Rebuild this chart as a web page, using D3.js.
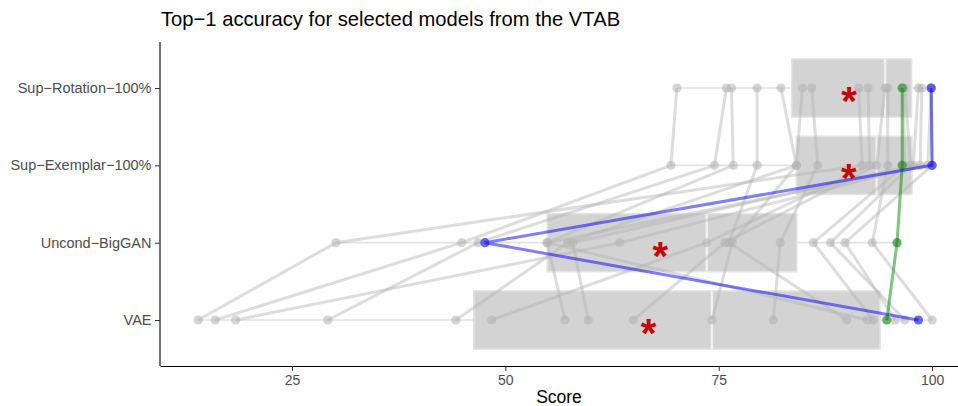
<!DOCTYPE html>
<html>
<head>
<meta charset="utf-8">
<script src="https://cdn.jsdelivr.net/npm/d3@7"></script>
<style>
  html, body { margin: 0; padding: 0; background: #ffffff; }
  svg { display: block; font-family: "Liberation Sans", Arial, Helvetica, sans-serif; }
</style>
</head>
<body>
<svg id="chart" width="958" height="406"></svg>
<script>
// ---------------- data ----------------
const categories = ["Sup−Rotation−100%", "Sup−Exemplar−100%", "Uncond−BigGAN", "VAE"];
// one value per VTAB task, same task order in every array
const supRotation  = [70.1, 75.9, 76.5, 79.5, 82.3, 84.8, 85.9, 91.4, 92.5, 94.5, 94.8, 96.5, 96.6, 96.8, 98.4, 98.8, 99.9, 99.9, 99.9];
const supExemplar  = [69.4, 74.5, 76.7, 79.5, 84.1, 84.1, 86.6, 91.8, 92.7, 93.5, 94.8, 96.5, 96.8, 97.5, 97.8, 98.6, 99.5, 100.0, 100.0];
const uncondBigGAN = [44.9, 46.8, 54.9, 76.2, 57.3, 76.6, 82.2, 30.15, 73.6, 75.7, 93.0, 95.9, 86.1, 88.1, 57.9, 63.4, 54.9, 89.8, 47.6];
const vae          = [16.0, 29.2, 92.4, 90.0, 44.2, 74.2, 81.4, 14.0, 48.4, 65.0, 100.0, 94.7, 93.1, 96.8, 59.7, 18.4, 57.0, 95.7, 98.4];
const greenTask = 11;
const blueTask = 18;
const xTicks = [25, 50, 75, 100];
const titleText = "Top−1 accuracy for selected models from the VTAB";
const xLabel = "Score";

const seriesByCat = [supRotation, supExemplar, uncondBigGAN, vae];
const nTasks = supRotation.length;

// ---------------- layout ----------------
const svg = d3.select("#chart");
const panel = { left: 160, right: 958, top: 42, bottom: 366 };

const x = d3.scaleLinear().domain([9.53, 103.04]).range([panel.left, panel.right]);
const y = d3.scalePoint().domain(categories).range([88, 320]);
const step = y.step();
const boxHalf = step * 0.375;

// task records
const tasks = d3.range(nTasks).map(i => categories.map((c, k) => ({ cat: c, v: seriesByCat[k][i] })));

// ---------------- boxplots ----------------
const gBox = svg.append("g");
categories.forEach((c, k) => {
  const vals = seriesByCat[k].slice().sort(d3.ascending);
  const q1 = d3.quantile(vals, 0.25), med = d3.quantile(vals, 0.5), q3 = d3.quantile(vals, 0.75);
  const iqr = q3 - q1;
  const lo = d3.min(vals.filter(v => v >= q1 - 1.5 * iqr));
  const hi = d3.max(vals.filter(v => v <= q3 + 1.5 * iqr));
  const cy = y(c);
  gBox.append("line").attr("x1", x(lo)).attr("x2", x(q1)).attr("y1", cy).attr("y2", cy)
    .attr("stroke", "#e3e3e3").attr("stroke-width", 1.6);
  gBox.append("line").attr("x1", x(q3)).attr("x2", x(hi)).attr("y1", cy).attr("y2", cy)
    .attr("stroke", "#e3e3e3").attr("stroke-width", 1.6);
  gBox.append("rect")
    .attr("x", x(q1)).attr("width", x(q3) - x(q1))
    .attr("y", cy - boxHalf).attr("height", boxHalf * 2)
    .attr("fill", "#d3d3d3").attr("stroke", "#e3e3e3").attr("stroke-width", 1.6);
  gBox.append("line").attr("x1", x(med)).attr("x2", x(med))
    .attr("y1", cy - boxHalf).attr("y2", cy + boxHalf)
    .attr("stroke", "#f0f0f0").attr("stroke-width", 2.4);
});

// ---------------- task lines & points ----------------
const line = d3.line().x(d => x(d.v)).y(d => y(d.cat));
const gLines = svg.append("g");
tasks.forEach((t, i) => {
  if (i === greenTask || i === blueTask) return;
  gLines.append("path").attr("d", line(t)).attr("fill", "none")
    .attr("stroke", "#b3b3b3").attr("stroke-opacity", 0.45).attr("stroke-width", 3);
});
tasks.forEach((t, i) => {
  gLines.selectAll(null).data(t).enter().append("circle")
    .attr("cx", d => x(d.v)).attr("cy", d => y(d.cat)).attr("r", 4.6)
    .attr("fill", "#b3b3b3").attr("fill-opacity", 0.55);
});
const hl = [[greenTask, "#008b00"], [blueTask, "#0000ff"]];
hl.forEach(([i, col]) => {
  gLines.append("path").attr("d", line(tasks[i])).attr("fill", "none")
    .attr("stroke", col).attr("stroke-opacity", 0.5).attr("stroke-width", 3);
  gLines.selectAll(null).data(tasks[i]).enter().append("circle")
    .attr("cx", d => x(d.v)).attr("cy", d => y(d.cat)).attr("r", 4.6)
    .attr("fill", col).attr("fill-opacity", 0.5);
});

// ---------------- means ----------------
categories.forEach((c, k) => {
  const m = d3.mean(seriesByCat[k]);
  svg.append("text").attr("x", x(m)).attr("y", y(c) + 27)
    .attr("text-anchor", "middle").attr("fill", "#cc0000")
    .attr("font-size", 40).attr("font-weight", "bold").text("*");
});

// ---------------- axes ----------------
const xAxis = svg.append("g").attr("transform", `translate(0,${panel.bottom})`)
  .call(d3.axisBottom(x).tickValues(xTicks).tickSize(5).tickPadding(4).tickSizeOuter(0));
xAxis.select(".domain").attr("stroke", "#000").attr("stroke-width", 1.1);
xAxis.selectAll(".tick line").attr("stroke", "#333");
xAxis.selectAll(".tick text").attr("fill", "#4d4d4d").attr("font-size", 14)
  .attr("font-family", "Liberation Sans, Arial, sans-serif");

const yAxis = svg.append("g").attr("transform", `translate(${panel.left},0)`)
  .call(d3.axisLeft(y).tickSize(5).tickPadding(3.5).tickSizeOuter(0));
yAxis.select(".domain").attr("d", `M0,${panel.top}V${panel.bottom}`)
  .attr("stroke", "#000").attr("stroke-width", 1.1);
yAxis.selectAll(".tick line").attr("stroke", "#333");
yAxis.selectAll(".tick text").attr("fill", "#4d4d4d").attr("font-size", 14.5)
  .attr("font-family", "Liberation Sans, Arial, sans-serif");

// ---------------- titles ----------------
svg.append("text").attr("x", 161).attr("y", 26).attr("font-size", 20.2)
  .attr("fill", "#000").text(titleText);
svg.append("text").attr("x", (panel.left + panel.right) / 2).attr("y", 403)
  .attr("text-anchor", "middle").attr("font-size", 17.5).attr("fill", "#000").text(xLabel);
</script>
</body>
</html>
